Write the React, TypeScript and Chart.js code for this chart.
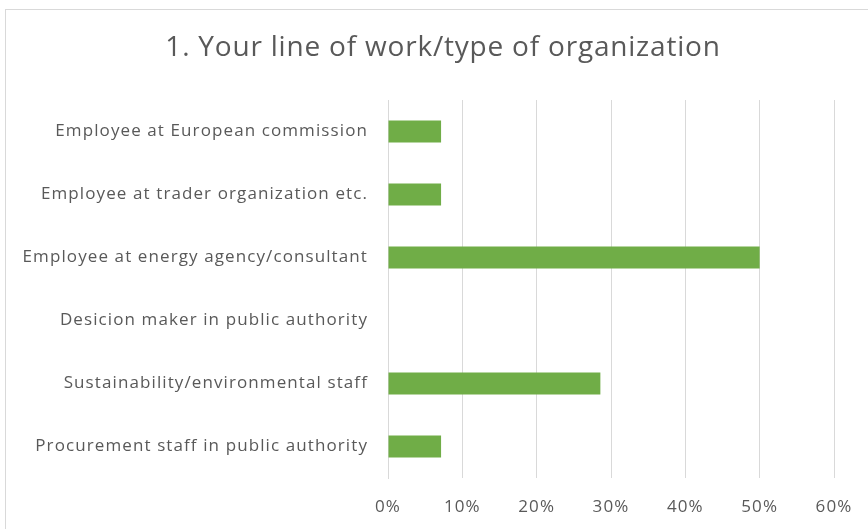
import React, { useEffect, useRef } from "react";
import { Chart, registerables } from "chart.js";

Chart.register(...registerables);

const categories = [
  "Employee at European commission",
  "Employee at trader organization etc.",
  "Employee at energy agency/consultant",
  "Desicion maker in public authority",
  "Sustainability/environmental staff",
  "Procurement staff in public authority",
];
const shares = [0.0714, 0.0714, 0.5, 0, 0.2857, 0.0714];
const xTicks = [0, 0.1, 0.2, 0.3, 0.4, 0.5, 0.6];
const titleText = "1. Your line of work/type of organization";

const FONT = "'Open Sans', Lato, sans-serif";
const GRAY = "#595959";

export default function App() {
  const ref = useRef<HTMLCanvasElement | null>(null);

  useEffect(() => {
    document.body.style.margin = "0";
    const canvas = ref.current!;
    const spacingPlugin = {
      id: "spacing",
      beforeDraw(chart: any) {
        (chart.ctx as any).letterSpacing = "1.1px";
      },
      afterDraw(chart: any) {
        const ctx = chart.ctx;
        ctx.save();
        (ctx as any).letterSpacing = "0.8px";
        ctx.fillStyle = GRAY;
        ctx.font = `28px ${FONT}`;
        ctx.textAlign = "center";
        ctx.textBaseline = "middle";
        ctx.fillText(titleText, 443, 48);
        ctx.restore();
      },
    };
    const chart = new Chart(canvas, {
      type: "bar",
      data: {
        labels: categories,
        datasets: [
          {
            data: shares,
            backgroundColor: "#70AD47",
            borderWidth: 0,
            categoryPercentage: 1,
            barPercentage: 0.35,
          },
        ],
      },
      options: {
        indexAxis: "y",
        animation: false,
        responsive: false,
        maintainAspectRatio: false,
        layout: { padding: { top: 100, right: 34, left: 0, bottom: 0 } },
        plugins: { legend: { display: false }, title: { display: false }, tooltip: { enabled: false } },
        scales: {
          x: {
            min: 0,
            max: 0.6,
            afterBuildTicks(scale: any) {
              scale.ticks = xTicks.map((v) => ({ value: v }));
            },
            afterFit(scale: any) {
              scale.height = 51;
              scale.paddingLeft = 0;
              scale.paddingRight = 0;
            },
            grid: { color: "#d9d9d9", drawTicks: false, lineWidth: 1 },
            border: { display: false },
            ticks: {
              padding: 19,
              color: GRAY,
              font: { family: FONT, size: 17 },
              callback: (v: any) => `${Math.round(Number(v) * 100)}%`,
            },
          },
          y: {
            afterFit(scale: any) {
              scale.width = 388;
              scale.paddingTop = 0;
              scale.paddingBottom = 0;
            },
            grid: { display: false, drawTicks: false },
            border: { display: true, color: "#d9d9d9", width: 1 },
            ticks: {
              padding: 20,
              color: GRAY,
              font: { family: FONT, size: 17 },
            },
          },
        },
      },
      plugins: [spacingPlugin],
    });
    return () => chart.destroy();
  }, []);

  return (
    <div style={{ position: "relative", width: 868, height: 529, overflow: "hidden", background: "#fff" }}>
      <canvas ref={ref} width={868} height={529} style={{ position: "absolute", left: 0, top: 0 }} />
      <div
        style={{
          position: "absolute",
          left: 5,
          top: 9,
          width: 900,
          height: 600,
          border: "1px solid #d9d9d9",
          pointerEvents: "none",
        }}
      />
    </div>
  );
}
